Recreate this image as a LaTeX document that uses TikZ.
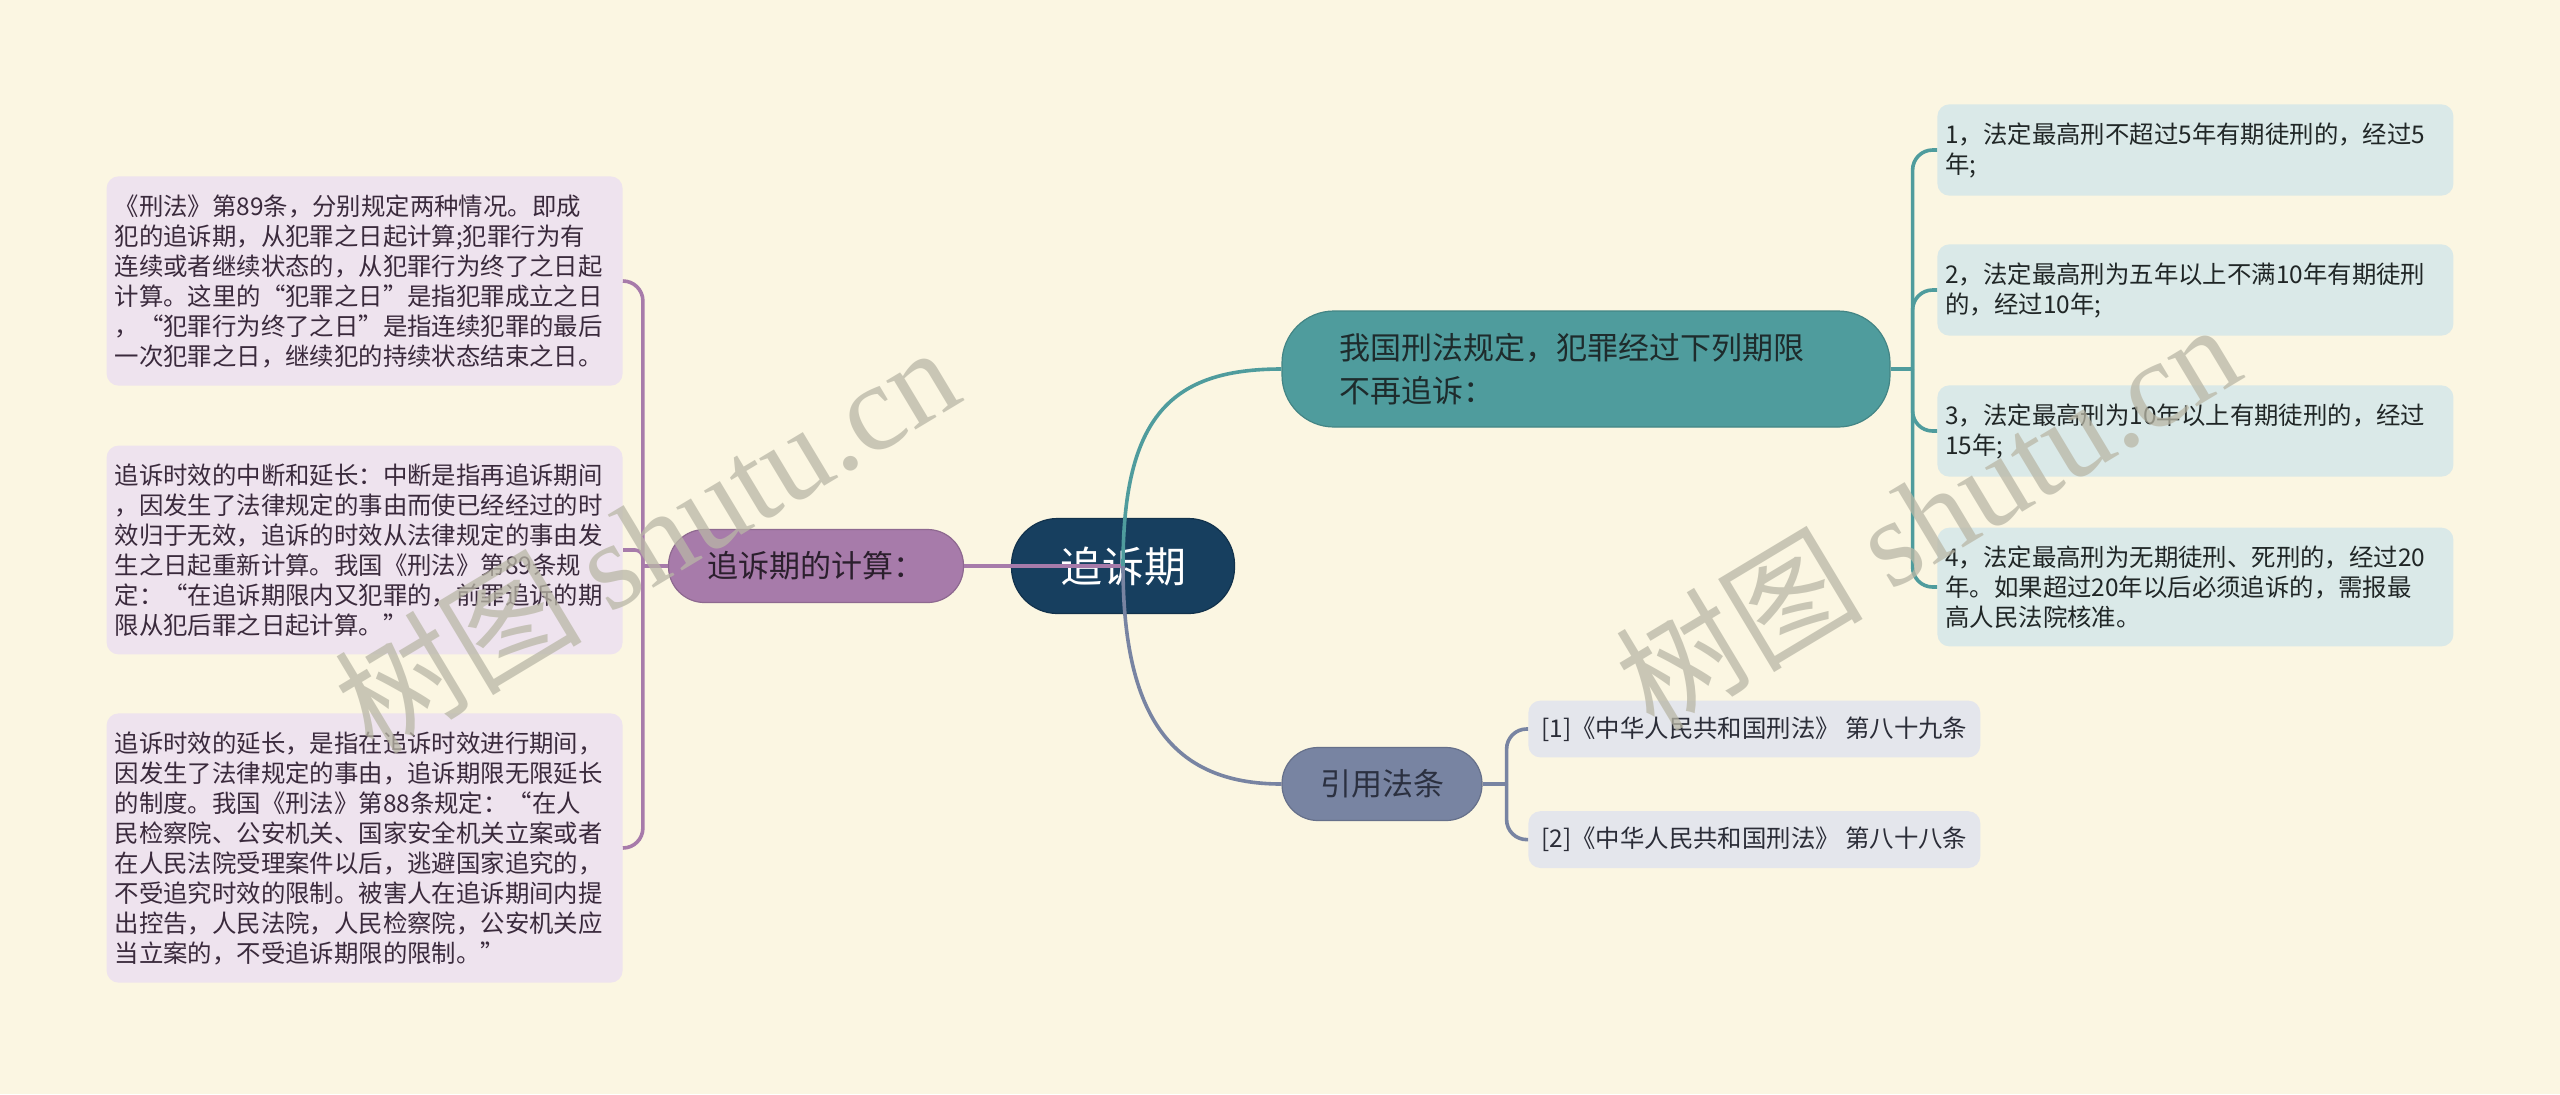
\documentclass[tikz,border=0pt]{standalone}
\usepackage{fontspec}
\setmainfont{Noto Sans CJK SC}
\newfontfamily\wmfont{Liberation Serif}
\usetikzlibrary{positioning}

\definecolor{cPaper}{HTML}{FBF6E2}
\definecolor{cRoot}{HTML}{173F5F}
\definecolor{cCalc}{HTML}{A77BAA}
\definecolor{cCalcText}{HTML}{2B1F2D}
\definecolor{cCalcLeaf}{HTML}{EEE3EE}
\definecolor{cCalcLeafText}{HTML}{3A2A3C}
\definecolor{cLaw}{HTML}{4F9C9D}
\definecolor{cLawText}{HTML}{1E2B2C}
\definecolor{cLawLeaf}{HTML}{DAE9E8}
\definecolor{cLawLeafText}{HTML}{202626}
\definecolor{cRef}{HTML}{7884A2}
\definecolor{cRefText}{HTML}{2B3040}
\definecolor{cRefLeaf}{HTML}{E4E6EC}
\definecolor{cRefLeafText}{HTML}{2B2D38}
\definecolor{cMark}{HTML}{B9B7A6}

\begin{document}
\begin{tikzpicture}[x=0.5pt, y=-0.5pt,
      rootbox/.style={rectangle, rounded corners=23pt, draw=cRoot!80!black, line width=0.6pt, fill=cRoot, text=white, minimum width=111.5pt, minimum height=47.5pt, font=\fontsize{21pt}{24pt}\selectfont},
      branch/.style={rectangle, draw=#1!85!black, line width=0.6pt, fill=#1, font=\fontsize{15.5pt}{21.5pt}\selectfont},
      calcbox/.style={branch=cCalc, rounded corners=18pt, text=cCalcText, minimum width=147.5pt, minimum height=36.5pt},
      lawbox/.style={branch=cLaw, rounded corners=26pt, text=cLawText, align=left, text width=247pt, inner xsep=28.5pt, minimum height=58pt},
      refbox/.style={branch=cRef, rounded corners=18pt, text=cRefText, minimum width=100pt, minimum height=36.5pt},
      leaf/.style={rectangle, rounded corners=6pt, align=left, inner ysep=9pt, font=\fontsize{12.2pt}{15pt}\selectfont},
      calcleaf/.style={leaf, fill=cCalcLeaf, text=cCalcLeafText, text width=250pt, inner xsep=4pt},
      lawleaf/.style={leaf, fill=cLawLeaf, text=cLawLeafText, text width=250pt, inner xsep=4pt},
      refleaf/.style={leaf, fill=cRefLeaf, text=cRefLeafText, inner xsep=6.5pt, inner ysep=8pt},
      link/.style={line width=1.8pt, draw=#1},
      wmark/.style={text=cMark, opacity=0.75, font=\fontsize{62pt}{62pt}\selectfont}
    ]
    \fill[cPaper] (0,0) rectangle (2560,1094);
    \useasboundingbox (0,0) rectangle (2560,1094);

    \node[rootbox] (root) at (1123,566) {追诉期};
    \node[calcbox] (calc) at (816,566) {追诉期的计算：};
    \node[lawbox] (law) at (1586,369) {我国刑法规定，犯罪经过下列期限\\不再追诉：};
    \node[refbox] (refs) at (1382,784) {引用法条};

    \node[calcleaf, anchor=east] (calc1) at (623,281) {《刑法》第89条，分别规定两种情况。即成\\犯的追诉期，从犯罪之日起计算;犯罪行为有\\连续或者继续状态的，从犯罪行为终了之日起\\计算。这里的“犯罪之日”是指犯罪成立之日\\，“犯罪行为终了之日”是指连续犯罪的最后\\一次犯罪之日，继续犯的持续状态结束之日。};
    \node[calcleaf, anchor=east] (calc2) at (623,550) {追诉时效的中断和延长：中断是指再追诉期间\\，因发生了法律规定的事由而使已经经过的时\\效归于无效，追诉的时效从法律规定的事由发\\生之日起重新计算。我国《刑法》第89条规\\定：“在追诉期限内又犯罪的，前罪追诉的期\\限从犯后罪之日起计算。”};
    \node[calcleaf, anchor=east] (calc3) at (623,848) {追诉时效的延长，是指在追诉时效进行期间，\\因发生了法律规定的事由，追诉期限无限延长\\的制度。我国《刑法》第88条规定：“在人\\民检察院、公安机关、国家安全机关立案或者\\在人民法院受理案件以后，逃避国家追究的，\\不受追究时效的限制。被害人在追诉期间内提\\出控告，人民法院，人民检察院，公安机关应\\当立案的，不受追诉期限的限制。”};

    \node[lawleaf, anchor=west] (law1) at (1937,150) {1，法定最高刑不超过5年有期徒刑的，经过5\\年;};
    \node[lawleaf, anchor=west] (law2) at (1937,290) {2，法定最高刑为五年以上不满10年有期徒刑\\的，经过10年;};
    \node[lawleaf, anchor=west] (law3) at (1937,431) {3，法定最高刑为10年以上有期徒刑的，经过\\15年;};
    \node[lawleaf, anchor=west] (law4) at (1937,587) {4，法定最高刑为无期徒刑、死刑的，经过20\\年。如果超过20年以后必须追诉的，需报最\\高人民法院核准。};

    \node[refleaf, anchor=west] (ref1) at (1528,729) {[1]《中华人民共和国刑法》 第八十九条};
    \node[refleaf, below=26.5pt of ref1.south west, anchor=north west] (ref2) {[2]《中华人民共和国刑法》 第八十八条};

    \coordinate (calcfork) at ([xshift=-12.5pt]calc.west);
    \coordinate (lawfork) at ([xshift=11pt]law.east);
    \coordinate (reffork) at ([xshift=12pt]refs.east);

    \draw[link=cCalc] (root.center) -- (calc.east);
    \draw[link=cLaw] (root.center) .. controls +(0,-150) and +(-110,0) .. (law.west);
    \draw[link=cRef] (root.center) .. controls +(0,150) and +(-110,0) .. (refs.west);

    \draw[link=cCalc] (calc.west) -- (calcfork);
    \draw[link=cCalc, rounded corners=10pt] (calcfork) |- (calc1.east);
    \draw[link=cCalc, rounded corners=4pt] (calcfork) |- (calc2.east);
    \draw[link=cCalc, rounded corners=10pt] (calcfork) |- (calc3.east);

    \draw[link=cLaw] (law.east) -- (lawfork);
    \draw[link=cLaw, rounded corners=10pt] (lawfork) |- (law1.west);
    \draw[link=cLaw, rounded corners=10pt] (lawfork) |- (law2.west);
    \draw[link=cLaw, rounded corners=10pt] (lawfork) |- (law3.west);
    \draw[link=cLaw, rounded corners=10pt] (lawfork) |- (law4.west);

    \draw[link=cRef] (refs.east) -- (reffork);
    \draw[link=cRef, rounded corners=10pt] (reffork) |- (ref1.west);
    \draw[link=cRef, rounded corners=10pt] (reffork) |- (ref2.west);

    \node[wmark, rotate=31] (mark1) at (646,538) {树图 {\wmfont shutu.cn}};
    \node[wmark, rotate=31] (mark2) at (1927,515) {树图 {\wmfont shutu.cn}};
  \end{tikzpicture}
\end{document}
